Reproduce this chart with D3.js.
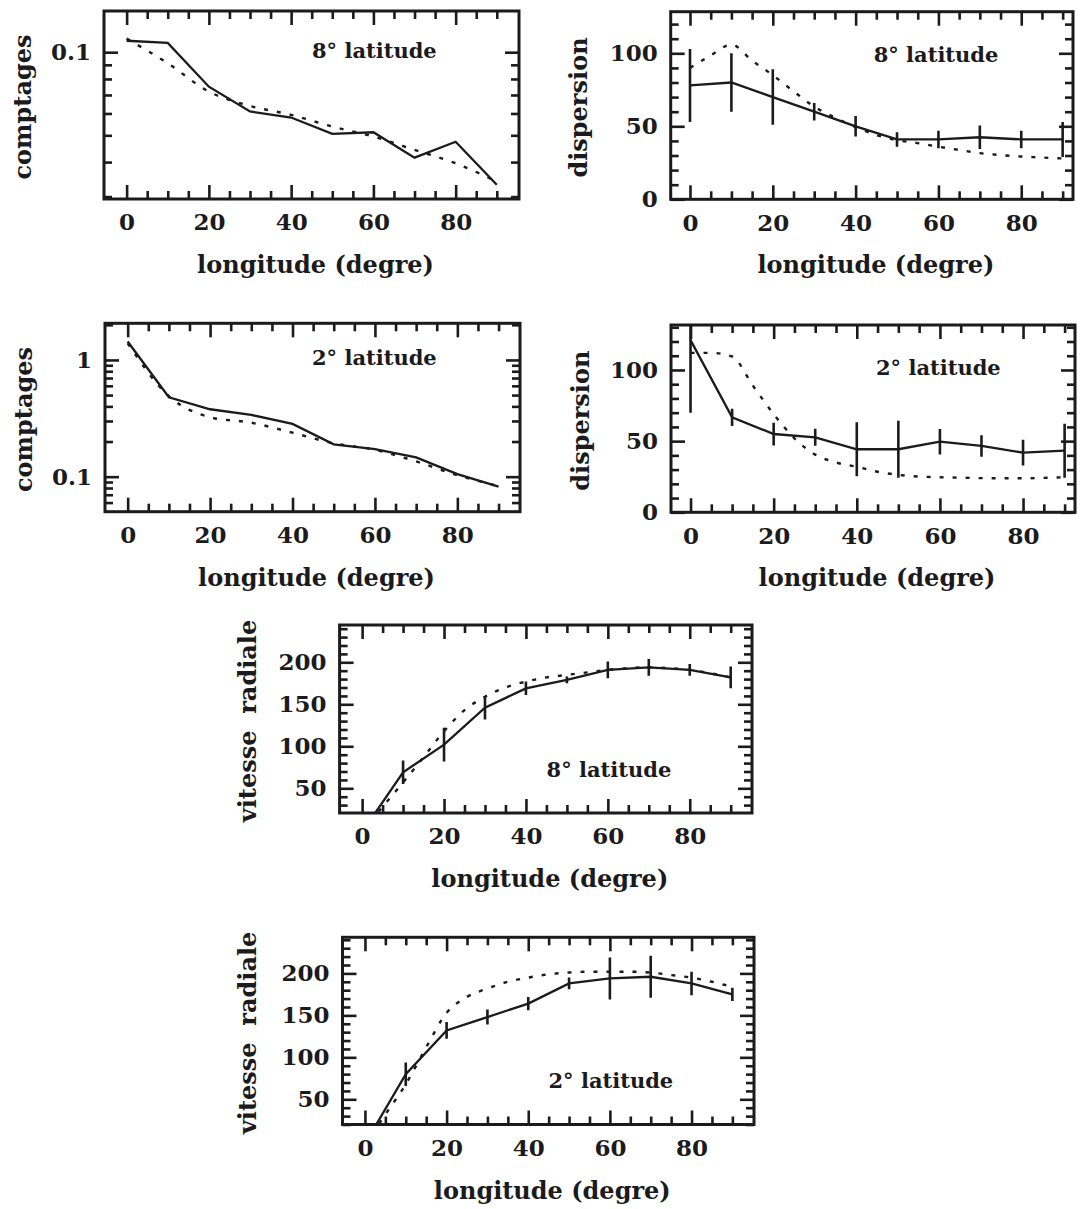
<!DOCTYPE html>
<html>
<head>
<meta charset="utf-8">
<script src="https://cdn.jsdelivr.net/npm/d3@7"></script>
<style>
  body { margin: 0; background: #fff; }
  svg text { font-family: "DejaVu Serif", serif; font-weight: bold; fill: #1b1a1c; }
</style>
</head>
<body>
<div id="chart"></div>
<script>
// longitudes of the measured points and of the model curves (degrees)
var longitudes = [0, 10, 20, 30, 40, 50, 60, 70, 80, 90];
var modelLongitudes = [0, 5, 10, 15, 20, 25, 30, 35, 40, 45, 50, 55, 60, 65, 70, 75, 80, 85, 90];

// comptages, 8 and 2 deg latitude (log axis)
var counts8 = [0.110, 0.108, 0.075, 0.061, 0.058, 0.0506, 0.0513, 0.0415, 0.0474, 0.0331];
var counts8Model = [0.112, 0.0912, 0.072, 0.0639, 0.0593, 0.0538, 0.0495, 0.0443, 0.0396, 0.034];
var counts2 = [1.44, 0.479, 0.378, 0.338, 0.283, 0.189, 0.172, 0.146, 0.105, 0.082];
var counts2Model = [1.39, 0.49, 0.323, 0.29, 0.238, 0.193, 0.17, 0.135, 0.103, 0.083];

// dispersion, 8 and 2 deg latitude
var disp8 = [78, 80, 70, 60, 50, 41, 41, 42.5, 41, 41];
var disp8Err = [25, 20, 19, 6, 7, 5, 6, 8, 6, 12];
var disp8Model = [90, 98.5, 106, 95, 85, 74, 63.5, 56, 49.5, 44, 40.5, 38.5, 36, 33.8, 31.6, 30.3, 29.3, 28.6, 28];
var disp2 = [121, 66.7, 55, 52.7, 44.3, 44.3, 49.6, 46.6, 41.9, 43.3];
var disp2Err = [51, 6, 8, 6, 19, 20, 9, 7.6, 9, 19];
var disp2Model = [112, 112, 109.5, 89, 69, 52, 40.5, 35, 32, 28.5, 26.3, 25.1, 24.6, 24.3, 24, 23.9, 23.9, 24.2, 24.6];

// vitesse radiale, 8 and 2 deg latitude
var vel8 = [-2, 69, 102, 146, 169, 179, 191, 194, 191, 182];
var vel8Err = [0, 14, 20, 14, 8, 4, 10, 10, 7, 13];
var vel8Model = [-2, 28, 57, 87, 118, 143, 159, 170, 177, 182, 185, 188, 191, 193, 194, 193, 191, 187, 182];
var vel2 = [-3, 80, 132, 148, 164, 188, 194, 196, 188, 175];
var vel2Err = [0, 14, 10, 9, 8, 7, 25, 25, 14, 8];
var vel2Model = [-5, 32, 68, 112, 153, 172, 182, 190, 195, 199, 201, 202, 202, 202, 201, 198, 195, 190, 184];

// tick labels
var xTickLabels = [0, 20, 40, 60, 80];
var countTicks8 = [0.1];
var countTicks2 = [0.1, 1];
var dispTicks = [0, 50, 100];
var velTicks = [50, 100, 150, 200];

var ink = "#1b1a1c";

var svg = d3.select("#chart").append("svg")
  .attr("width", 1083)
  .attr("height", 1209);

var panels = [
  { box: [104, 11, 519, 199], xDomain: [-5.5, 95.4], yDomain: [0.0294, 0.141], log: true,
    yTicks: countTicks8, ylabel: "comptages", ylabelX: 31, note: "8° latitude", noteDx: 208, noteDy: 47,
    values: counts8, model: counts8Model, modelX: longitudes },
  { box: [670.7, 11.7, 1073, 199.3], xDomain: [-4.66, 92.5], yDomain: [0, 128.5], log: false,
    yTicks: dispTicks, ylabel: "dispersion", ylabelX: 587, note: "8° latitude", noteDx: 203, noteDy: 50,
    values: disp8, errors: disp8Err, model: disp8Model, modelX: modelLongitudes },
  { box: [105, 323.3, 520, 511.7], xDomain: [-5.5, 95.2], yDomain: [0.0501, 2.06], log: true,
    yTicks: countTicks2, ylabel: "comptages", ylabelX: 32, note: "2° latitude", noteDx: 207, noteDy: 42,
    values: counts2, model: counts2Model, modelX: longitudes },
  { box: [671, 325, 1075, 512.3], xDomain: [-4.7, 92.5], yDomain: [0, 131.6], log: false,
    yTicks: dispTicks, ylabel: "dispersion", ylabelX: 589, note: "2° latitude", noteDx: 205, noteDy: 50,
    values: disp2, errors: disp2Err, model: disp2Model, modelX: modelLongitudes },
  { box: [339.6, 625, 752, 813], xDomain: [-5.5, 95.2], yDomain: [20.6, 244.4], log: false,
    yTicks: velTicks, ylabel: "vitesse  radiale", ylabelX: 256, note: "8° latitude", noteDx: 207, noteDy: 152,
    values: vel8, errors: vel8Err, model: vel8Model, modelX: modelLongitudes },
  { box: [342.5, 937.3, 754, 1124.5], xDomain: [-5.5, 95.3], yDomain: [20, 243], log: false,
    yTicks: velTicks, ylabel: "vitesse  radiale", ylabelX: 256, note: "2° latitude", noteDx: 206, noteDy: 151,
    values: vel2, errors: vel2Err, model: vel2Model, modelX: modelLongitudes }
];

function styleAxis(g, size) {
  g.select(".domain").remove();
  g.selectAll(".tick line").attr("stroke", ink).attr("stroke-width", 2.6);
  g.selectAll(".tick text")
    .style("font-size", size + "px")
    .style("font-family", "DejaVu Serif")
    .style("font-weight", "bold")
    .attr("fill", ink);
}

function drawPanel(p, idx) {
  var left = p.box[0], top = p.box[1], right = p.box[2], bottom = p.box[3];

  var x = d3.scaleLinear().domain(p.xDomain).range([left, right]);
  var y = (p.log ? d3.scaleLog() : d3.scaleLinear()).domain(p.yDomain).range([bottom, top]);

  var g = svg.append("g").attr("class", "panel-" + idx);

  svg.append("clipPath").attr("id", "clip" + idx)
    .append("rect")
    .attr("x", left).attr("y", top)
    .attr("width", right - left).attr("height", bottom - top);

  // x ticks: every 5 deg, long ones every 20
  var xMinor = d3.range(0, 91, 5).filter(v => v % 20 != 0);
  var xMajor = d3.range(0, 91, 20);

  // y ticks
  var yMinor, yMajor;
  if (p.log) {
    yMinor = y.ticks().filter(v => Math.abs(Math.log10(v) - Math.round(Math.log10(v))) > 1e-6);
    yMajor = y.ticks().filter(v => Math.abs(Math.log10(v) - Math.round(Math.log10(v))) < 1e-6);
  } else {
    var allY = d3.range(Math.ceil(p.yDomain[0] / 10) * 10, p.yDomain[1], 10);
    yMinor = allY.filter(v => v % 50 != 0);
    yMajor = allY.filter(v => v % 50 == 0);
  }

  var sides = [
    [d3.axisBottom, bottom, true], [d3.axisTop, top, false]
  ];
  sides.forEach(function(s) {
    g.append("g").attr("transform", `translate(0,${s[1]})`)
      .call(s[0](x).tickValues(xMinor).tickSize(-8).tickFormat(""))
      .call(a => styleAxis(a, 23));
    g.append("g").attr("transform", `translate(0,${s[1]})`)
      .call(s[0](x).tickValues(xMajor).tickSize(-14).tickPadding(15)
        .tickFormat(s[2] ? (v => xTickLabels.indexOf(v) >= 0 ? String(v) : "") : ""))
      .call(a => styleAxis(a, 23));
  });

  [[d3.axisLeft, left, true], [d3.axisRight, right, false]].forEach(function(s) {
    g.append("g").attr("transform", `translate(${s[1]},0)`)
      .call(s[0](y).tickValues(yMinor).tickSize(-8).tickFormat(""))
      .call(a => styleAxis(a, 23));
    g.append("g").attr("transform", `translate(${s[1]},0)`)
      .call(s[0](y).tickValues(yMajor).tickSize(-14).tickPadding(13)
        .tickFormat(s[2] ? (v => p.yTicks.indexOf(v) >= 0 ? String(v) : "") : ""))
      .call(a => styleAxis(a, 23));
  });

  // frame
  g.append("rect")
    .attr("x", left).attr("y", top)
    .attr("width", right - left).attr("height", bottom - top)
    .attr("fill", "none")
    .attr("stroke", ink)
    .attr("stroke-width", 3);

  var plot = g.append("g").attr("clip-path", `url(#clip${idx})`);

  // model curve (dashed)
  var modelLine = d3.line()
    .x((d, i) => x(p.modelX[i]))
    .y(d => y(d))
    .curve(d3.curveMonotoneX);
  plot.append("path")
    .datum(p.model)
    .attr("d", modelLine)
    .attr("fill", "none")
    .attr("stroke", ink)
    .attr("stroke-width", 2.4)
    .attr("stroke-dasharray", "4,9");

  // measured curve (solid)
  var dataLine = d3.line()
    .x((d, i) => x(longitudes[i]))
    .y(d => y(d));
  plot.append("path")
    .datum(p.values)
    .attr("d", dataLine)
    .attr("fill", "none")
    .attr("stroke", ink)
    .attr("stroke-width", 2.3);

  // error bars
  if (p.errors) {
    plot.selectAll(".err").data(p.values)
      .enter()
      .append("line")
      .attr("class", "err")
      .attr("x1", (d, i) => x(longitudes[i]))
      .attr("x2", (d, i) => x(longitudes[i]))
      .attr("y1", (d, i) => y(d - p.errors[i]))
      .attr("y2", (d, i) => y(d + p.errors[i]))
      .attr("stroke", ink)
      .attr("stroke-width", 2.6);
  }

  // labels
  g.append("text")
    .attr("x", left + p.noteDx)
    .attr("y", top + p.noteDy)
    .style("font-size", "21px")
    .text(p.note);

  g.append("text")
    .attr("x", (left + right) / 2 + 4)
    .attr("y", bottom + 74)
    .attr("text-anchor", "middle")
    .style("font-size", "24px")
    .text("longitude (degre)");

  g.append("text")
    .attr("transform", `translate(${p.ylabelX},${(top + bottom) / 2 + 2}) rotate(-90)`)
    .attr("text-anchor", "middle")
    .style("font-size", "24px")
    .style("white-space", "pre")
    .text(p.ylabel);
}

panels.forEach(drawPanel);
</script>
</body>
</html>
